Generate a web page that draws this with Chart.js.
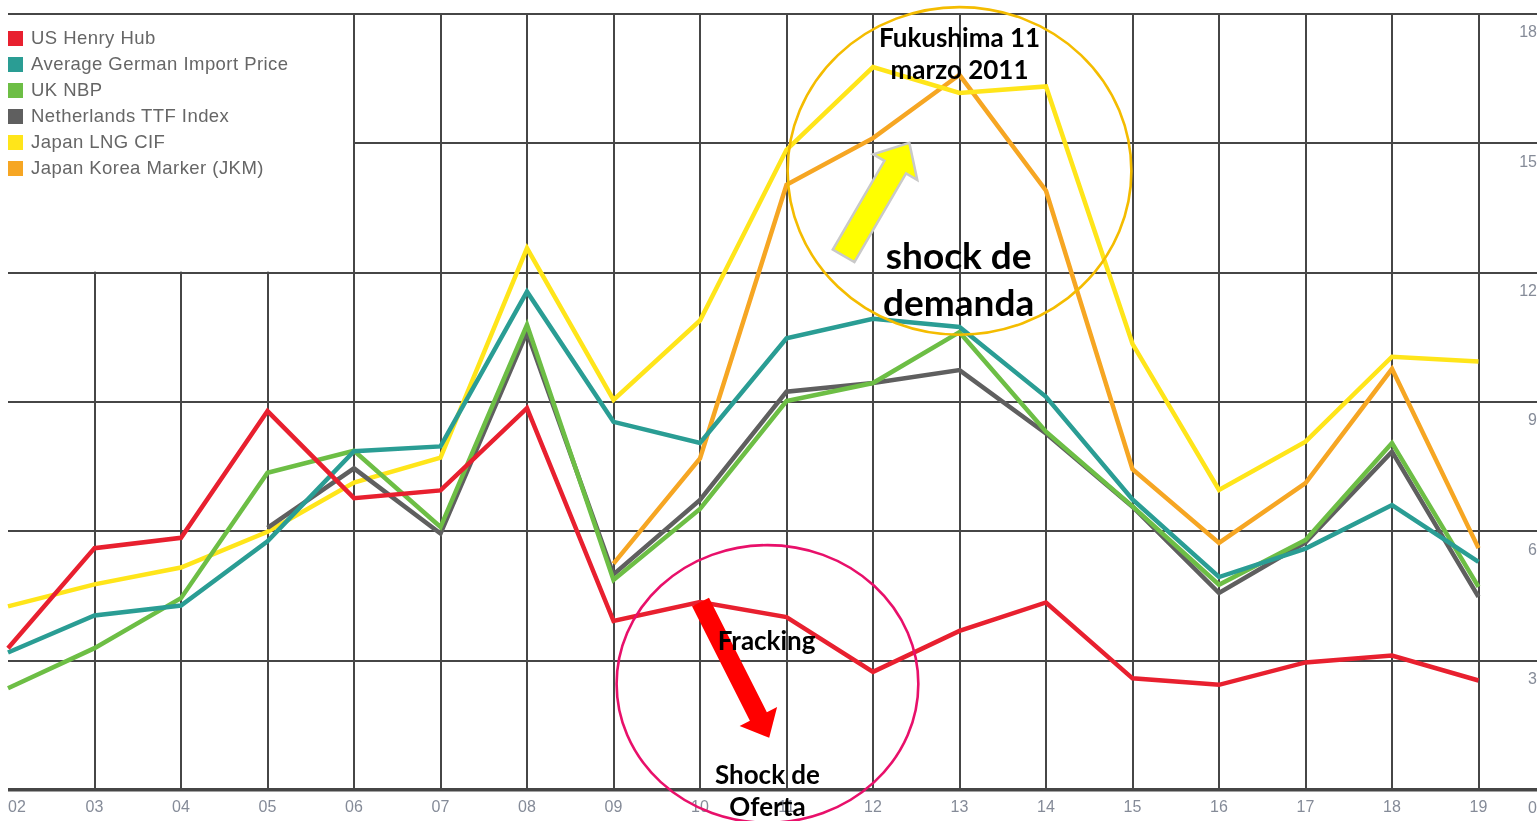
<!DOCTYPE html>
<html><head><meta charset="utf-8">
<script src="https://cdn.jsdelivr.net/npm/chart.js@4.4.1/dist/chart.umd.min.js"></script>
<style>
html,body{margin:0;padding:0;background:#fff;overflow:hidden;width:1537px;height:821px;}
#wrap{position:relative;width:1573px;height:821px;}
#c{position:absolute;left:0;top:0;}
#legend{position:absolute;left:8px;top:25px;font-family:"Liberation Sans",Arial,sans-serif;font-size:18.5px;letter-spacing:0.45px;color:#666;}
.li{height:26px;display:flex;align-items:center;white-space:nowrap;}
.sw{width:15px;height:15px;margin-right:8px;flex:none;}
#ann{position:absolute;left:0;top:0;pointer-events:none;}
</style></head>
<body><div id="wrap"><canvas id="c" width="1573" height="821"></canvas><div id="legend"></div><svg id="ann" width="1573" height="821" xmlns="http://www.w3.org/2000/svg"></svg></div>
<script>
// ---- data (USD / MMBtu) ----
const years = ['02','03','04','05','06','07','08','09','10','11','12','13','14','15','16','17','18','19'];
const henryHub = [3.29, 5.61, 5.85, 8.79, 6.77, 6.95, 8.86, 3.92, 4.36, 4.01, 2.74, 3.69, 4.35, 2.59, 2.44, 2.96, 3.12, 2.54];
const germanImport = [3.19, 4.05, 4.28, 5.77, 7.86, 7.97, 11.56, 8.54, 8.05, 10.48, 10.93, 10.74, 9.12, 6.74, 4.94, 5.60, 6.61, 5.29];
const ukNbp = [2.36, 3.29, 4.45, 7.36, 7.87, 6.10, 10.79, 4.87, 6.52, 9.02, 9.44, 10.62, 8.31, 6.58, 4.76, 5.80, 8.05, 4.71];
const ttfIndex = [null, null, null, 6.08, 7.46, 5.95, 10.62, 5.00, 6.73, 9.24, 9.44, 9.74, 8.27, 6.57, 4.57, 5.74, 7.85, 4.48];
const japanLng = [4.26, 4.77, 5.16, 5.99, 7.13, 7.71, 12.57, 9.05, 10.89, 14.85, 16.77, 16.17, 16.32, 10.35, 6.96, 8.08, 10.05, 9.94];
const jkm = [null, null, null, null, null, null, null, 5.25, 7.69, 14.04, 15.12, 16.59, 13.90, 7.44, 5.73, 7.12, 9.77, 5.61];
const yTicks = [0, 3, 6, 9, 12, 15, 18];

const seriesNames = ['US Henry Hub','Average German Import Price','UK NBP','Netherlands TTF Index','Japan LNG CIF','Japan Korea Marker (JKM)'];
const seriesColors = ['#E8202F','#2A9D94','#6DBE45','#5f5f5f','#FFE51A','#F6A623'];
const seriesData = [henryHub, germanImport, ukNbp, ttfIndex, japanLng, jkm];

// legend (HTML text)
const lg = document.getElementById('legend');
seriesNames.forEach((n,i)=>{
  const d=document.createElement('div'); d.className='li';
  const s=document.createElement('span'); s.className='sw'; s.style.background=seriesColors[i];
  const t=document.createElement('span'); t.textContent=n;
  d.appendChild(s); d.appendChild(t); lg.appendChild(d);
});

const GRID = '#464646';
const legendMask = {
  id:'legendMask',
  beforeDatasetsDraw(chart){
    const {ctx, scales:{x,y}} = chart;
    const x0 = x.getPixelForValue(0) - 2, x1 = x.getPixelForValue(4) - 1;
    const y0 = y.getPixelForValue(yTicks[6]) + 1, y1 = y.getPixelForValue(yTicks[4]) - 1;
    ctx.save(); ctx.fillStyle='#fff'; ctx.fillRect(x0,y0,x1-x0,y1-y0); ctx.restore();
  }
};

const chart = new Chart(document.getElementById('c'), {
  type:'line',
  data:{
    labels:[...years, ''],
    datasets: seriesData.map((d,i)=>({
      label: seriesNames[i], data: d, borderColor: seriesColors[i], backgroundColor: seriesColors[i],
      borderWidth: 4.5, pointRadius: 0, tension: 0, fill: false
    }))
  },
  options:{
    responsive:false, animation:false, devicePixelRatio:1,
    layout:{padding:{top:14,left:8,right:0,bottom:0}},
    plugins:{legend:{display:false}, tooltip:{enabled:false}},
    scales:{
      x:{
        offset:false,
        border:{display:false},
        grid:{color:(c)=> c.index===0 ? 'rgba(0,0,0,0)' : GRID, lineWidth:2, drawTicks:false},
        ticks:{align:'inner', padding:8, color:'#858b98', font:{family:'"Liberation Sans", Arial, sans-serif', size:16}, maxRotation:0, autoSkip:false},
        afterFit:(s)=>{ s.height = 31; }
      },
      y:{
        position:'right', min:0, max:18,
        border:{display:false},
        grid:{color:GRID, lineWidth:(c)=> c.tick && c.tick.value===0 ? 3.5 : 2, drawTicks:false},
        ticks:{stepSize:3, mirror:true, padding:-28, labelOffset:19, color:'#858b98', font:{family:'"Liberation Sans", Arial, sans-serif', size:16}},
        afterFit:(s)=>{ s.width = 0; }
      }
    }
  },
  plugins:[legendMask]
});

// ---- annotations, anchored in data units ----
const xs = chart.scales.x, ys = chart.scales.y;
const P = (i,v)=>[xs.getPixelForValue(i), ys.getPixelForValue(v)];
const catW = xs.getPixelForValue(1) - xs.getPixelForValue(0);
const unitH = ys.getPixelForValue(0) - ys.getPixelForValue(1);
const svg = document.getElementById('ann');
const NS = 'http://www.w3.org/2000/svg';
function el(tag, attrs, txt){ const e=document.createElementNS(NS,tag); for(const k in attrs) e.setAttribute(k,attrs[k]); if(txt) e.textContent=txt; svg.appendChild(e); return e; }
function ellipse(ci, cv, ri, rv, color){ const [cx,cy]=P(ci,cv); el('ellipse',{cx,cy,rx:ri*catW,ry:rv*unitH,fill:'none',stroke:color,'stroke-width':2.6}); }
function arrow(t, h, sw, hw, hl, fill, stroke){
  const [tx,ty]=P(t[0],t[1]), [hx,hy]=P(h[0],h[1]);
  const dx=hx-tx, dy=hy-ty, L=Math.hypot(dx,dy), ux=dx/L, uy=dy/L, nx=-uy, ny=ux;
  const bx=hx-ux*hl, by=hy-uy*hl;
  const pts=[[tx+nx*sw/2,ty+ny*sw/2],[bx+nx*sw/2,by+ny*sw/2],[bx+nx*hw/2,by+ny*hw/2],[hx,hy],[bx-nx*hw/2,by-ny*hw/2],[bx-nx*sw/2,by-ny*sw/2],[tx-nx*sw/2,ty-ny*sw/2]];
  el('polygon',{points:pts.map(p=>p.join(',')).join(' '),fill, stroke:stroke||'none','stroke-width':stroke?2.5:0,'stroke-linejoin':'miter'});
}
function text(i, v, s, size){ const [x,y]=P(i,v); el('text',{x,y,'text-anchor':'middle','dominant-baseline':'central','font-family':'Lato, "Open Sans", sans-serif','font-weight':'bold','font-size':size,fill:'#000'}, s); }

ellipse(11.0, 14.36, 1.987, 3.80, '#F4BC00');
ellipse(8.78, 2.46, 1.744, 3.22, '#E8106A');
arrow([9.66, 12.39],[10.42, 15.01], 25, 51, 28, '#FFFF00', '#c9c9c9');
arrow([8.006, 4.36],[8.80, 1.21], 19, 42, 24, '#FF0000');
text(11.0, 17.47, 'Fukushima 11', 26);
text(11.0, 16.72, 'marzo 2011', 26);
text(10.99, 12.41, 'shock de', 37);
text(10.99, 11.34, 'demanda', 37);
text(8.77, 3.48, 'Fracking', 26);
text(8.78, 0.37, 'Shock de', 26);
text(8.78, -0.37, 'Oferta', 26);
</script>
</body></html>
